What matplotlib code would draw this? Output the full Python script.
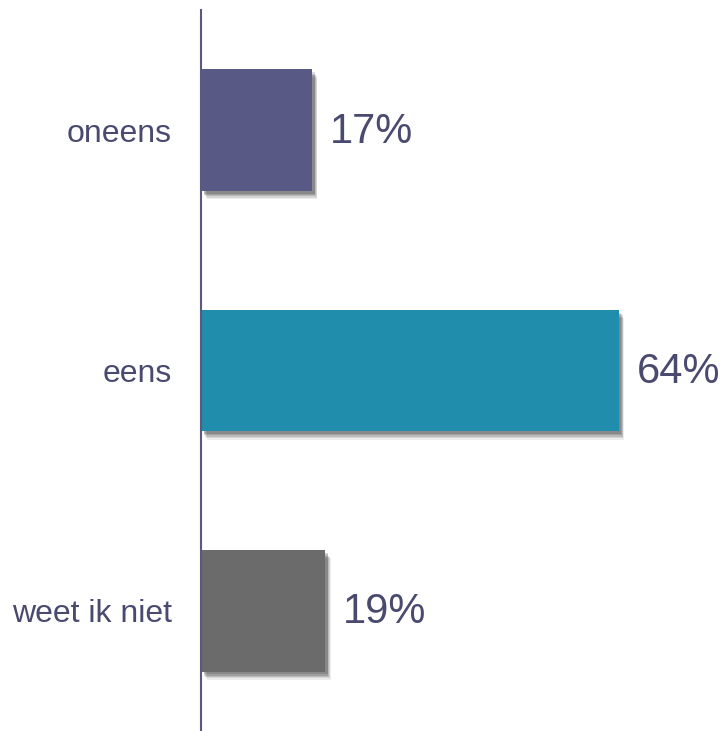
import matplotlib
matplotlib.use("Agg")
import matplotlib.pyplot as plt
import matplotlib.patheffects as pe

categories = ["oneens", "eens", "weet ik niet"]
values = [17, 64, 19]
colors = ["#595986", "#1f8dab", "#6b6b6b"]
text_color = "#4a4a70"

plt.rcParams["font.family"] = ["Liberation Sans", "DejaVu Sans"]

fig = plt.figure(figsize=(7.24, 7.31), dpi=100)
ax = fig.add_axes([201 / 724, 0.0, 522 / 724, 721 / 731])

# soft drop shadow: several stacked offset shadows to fake a blur
shadow = [
    pe.SimplePatchShadow(offset=(dx, -dy), shadow_rgbFace="#000000", alpha=a)
    for dx, dy, a in [(4, 6, 0.07), (3.5, 5, 0.1), (3, 4, 0.12),
                      (2.5, 3, 0.14), (2, 2, 0.14)]
] + [pe.Normal()]

ypos = list(range(len(categories)))
bars = ax.barh(ypos, values, height=0.505, color=colors)
for b in bars:
    b.set_path_effects(shadow)

for y, v in zip(ypos, values):
    ax.annotate(f"{v}%", (v, y), xytext=(13, -1), textcoords="offset points",
                va="center", ha="left", fontsize=30, color=text_color)

ax.set_xlim(0, 80)
ax.set_ylim(2.5, -0.5)
ax.set_yticks(ypos)
ax.set_yticklabels(categories, fontsize=23, color=text_color)
ax.tick_params(axis="y", length=0, pad=21)
ax.set_xticks([])

for side in ["top", "right", "bottom"]:
    ax.spines[side].set_visible(False)
ax.spines["left"].set_color("#5a5a80")
ax.spines["left"].set_linewidth(1.5)

fig.savefig("out.png", dpi=100)
plt.close(fig)
